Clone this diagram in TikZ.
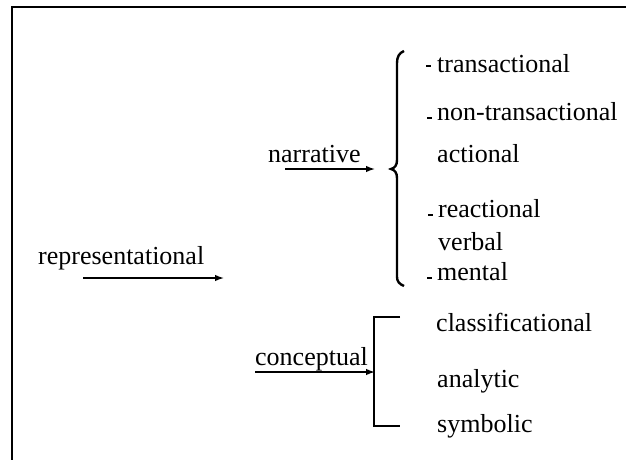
\documentclass[tikz,border=0pt]{standalone}
\usepackage{fontspec}
\setmainfont{Liberation Serif}
\usetikzlibrary{arrows.meta}
\begin{document}
\begin{tikzpicture}[x=1pt,y=-1pt,
  lbl/.style={anchor=base west,inner sep=0pt,font=\fontsize{26}{30}\selectfont},
  arr/.style={line width=1.4pt,-{Latex[length=9pt,width=6.5pt]}},
  tick/.style={line width=1.2pt},
  frame/.style={line width=2.5pt}]
\useasboundingbox (0,0) rectangle (626,460);
\fill[white] (0,0) rectangle (626,460);
% frame
\coordinate (fb) at (12,462);
\coordinate (ftl) at (12,7);
\coordinate (fr) at (628,7);
\draw[frame] (fb) -- (ftl) -- (fr);

% representational
\node[lbl] (rep) at (38,264) {representational};
\coordinate (repA) at (83,278);
\coordinate (repB) at (224,278);
\draw[arr] (repA) -- (repB);

% narrative
\node[lbl] (nar) at (268,162) {narrative};
\coordinate (narA) at (285,169);
\coordinate (narB) at (375,169);
\draw[arr] (narA) -- (narB);

% brace
\coordinate (bt) at (404,51);
\coordinate (bm) at (391,169);
\coordinate (bb) at (404,286);
\draw[line width=2.4pt] (bt) .. controls (399,53) and (397,57) .. (397,63) -- (397,160)
  .. controls (397,165) and (395,168) .. (bm)
  .. controls (395,170) and (397,173) .. (397,178) -- (397,277)
  .. controls (397,281) and (399,284) .. (bb);

% narrative items
\node[lbl] (t1) at (437,73) {transactional};
\node[lbl] (t2) at (437,120) {non-transactional};
\node[lbl] (t3) at (437,162) {actional};
\node[lbl] (t4) at (438,217) {reactional};
\node[lbl] (t5) at (438,250) {verbal};
\node[lbl] (t6) at (437,280) {mental};
\draw[tick] ([xshift=-11pt,yshift=7pt]t1.base west) -- ([xshift=-6pt,yshift=7pt]t1.base west);
\draw[tick] ([xshift=-10pt,yshift=2pt]t2.base west) -- ([xshift=-5pt,yshift=2pt]t2.base west);
\draw[tick] ([xshift=-10pt,yshift=2pt]t4.base west) -- ([xshift=-5pt,yshift=2pt]t4.base west);
\draw[tick] ([xshift=-10pt,yshift=2pt]t6.base west) -- ([xshift=-5pt,yshift=2pt]t6.base west);

% conceptual
\node[lbl] (con) at (255,365) {conceptual};
\coordinate (conA) at (255,372);
\coordinate (conB) at (375,372);
\draw[arr] (conA) -- (conB);
\coordinate (kt) at (400,317);
\coordinate (kb) at (400,426);
\draw[line width=1.5pt] (kt) -- (374,317) -- (374,426) -- (kb);
\node[lbl] (c1) at (436,331) {classificational};
\node[lbl] (c2) at (437,387) {analytic};
\node[lbl] (c3) at (437,432) {symbolic};
\end{tikzpicture}
\end{document}
